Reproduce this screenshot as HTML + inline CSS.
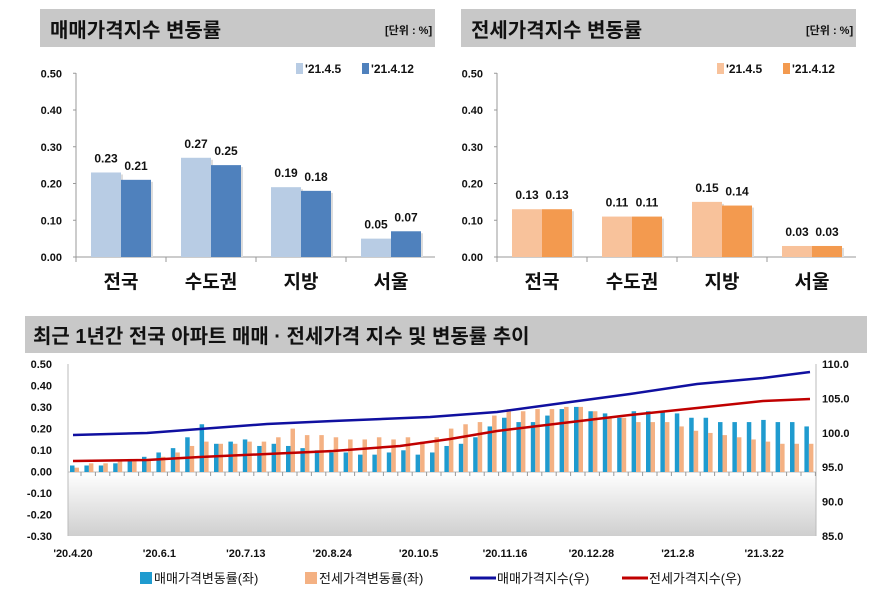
<!DOCTYPE html><html><head><meta charset="utf-8"><style>
body{margin:0;background:#fff;width:881px;height:606px;overflow:hidden}
svg{font-family:"Liberation Sans","Noto Sans CJK KR",sans-serif}
</style></head><body>
<svg id="s" width="881" height="606" xmlns="http://www.w3.org/2000/svg">
<defs><linearGradient id="g" x1="0" y1="0" x2="0" y2="1"><stop offset="0" stop-color="#fff"/><stop offset="1" stop-color="#cfcfcf"/></linearGradient></defs>
</svg>
<script>
const s=document.getElementById('s');let h='';
function T(x,y,t,sz,anc,w,col){h+=`<text x="${x}" y="${y}" font-size="${sz}" text-anchor="${anc||'start'}" font-weight="${w||'bold'}" fill="${col||'#111'}">${t}</text>`}
function R(x,y,w,hh,c){h+=`<rect x="${x}" y="${y}" width="${w}" height="${hh}" fill="${c}"/>`}
function panel(ox,title,c1,c2,vals){
 R(ox+40,9,395,38,'#c8c8c8');T(ox+50,37,title,20);T(ox+385,34,'[단위 : %]',11);
 const y0=257,sc=367.5;
 for(let i=0;i<=5;i++){let y=y0-i*36.75;T(ox+62,y+4,(i/10).toFixed(2),11,'end');h+=`<line x1="${ox+73}" y1="${y}" x2="${ox+76}" y2="${y}" stroke="#999"/>`}
 h+=`<line x1="${ox+76}" y1="73" x2="${ox+76}" y2="${y0}" stroke="#999"/><line x1="${ox+76}" y1="${y0}" x2="${ox+435}" y2="${y0}" stroke="#999"/>`;
 const cats=['전국','수도권','지방','서울'];
 cats.forEach((c,i)=>{let cx=ox+121+i*90;
  let [a,b]=vals[i];
  R(cx-28,y0-a*sc+2,30,a*sc-2,'#ddd');R(cx+2,y0-b*sc+2,30,b*sc-2,'#ddd');
  R(cx-30,y0-a*sc,30,a*sc,c1);R(cx,y0-b*sc,30,b*sc,c2);
  T(cx-15,y0-a*sc-10,a.toFixed(2),12,'middle');T(cx+15,y0-b*sc-10,b.toFixed(2),12,'middle');
  T(cx,288,c,19,'middle');
  h+=`<line x1="${ox+76+i*90}" y1="${y0}" x2="${ox+76+i*90}" y2="${y0+5}" stroke="#999"/>`});
 R(ox+296,63,7,11,c1);T(ox+305,73,"'21.4.5",12);R(ox+362,63,7,11,c2);T(ox+371,73,"'21.4.12",12);
}
panel(0,'매매가격지수 변동률','#b8cce4','#4f81bd',[[.23,.21],[.27,.25],[.19,.18],[.05,.07]]);
panel(421,'전세가격지수 변동률','#f8c29b','#f39a4f',[[.13,.13],[.11,.11],[.15,.14],[.03,.03]]);
R(25,316,842,37,'#c8c8c8');T(33,343,'최근 1년간 전국 아파트 매매 · 전세가격 지수 및 변동률 추이',20);
const X0=68,X1=816,Y0=472,k=217;
R(X0,Y0,X1-X0,536-Y0,'url(#g)');
for(let i=0;i<=8;i++){let v=0.5-i*0.1;let y=364+i*21.5;T(52,y+4,v.toFixed(2).replace('-0.00','0.00'),11,'end')}
for(let i=0;i<=5;i++){let y=364+i*34.4;T(822,y+4,(110-i*5).toFixed(1),11,'start')}
h+=`<line x1="${X0}" y1="364" x2="${X0}" y2="536" stroke="#bbb"/><line x1="${X1}" y1="364" x2="${X1}" y2="536" stroke="#bbb"/><line x1="${X0}" y1="${Y0}" x2="${X1}" y2="${Y0}" stroke="#bbb"/>`;
const B=[.03,.03,.03,.04,.06,.07,.09,.11,.16,.22,.13,.14,.15,.12,.13,.12,.11,.10,.09,.09,.08,.08,.09,.10,.08,.09,.12,.13,.16,.21,.25,.23,.23,.26,.29,.30,.28,.27,.25,.28,.28,.28,.27,.25,.25,.23,.23,.23,.24,.23,.23,.21];
const O=[.02,.04,.04,.05,.05,.06,.07,.09,.12,.14,.13,.13,.14,.14,.16,.20,.17,.17,.16,.15,.15,.16,.15,.16,.14,.16,.20,.22,.23,.26,.29,.28,.29,.29,.30,.30,.28,.25,.25,.23,.23,.23,.21,.19,.18,.17,.16,.15,.14,.13,.13,.13];
for(let i=0;i<52;i++){let cx=72+i*14.4;
 R(cx-2,Y0-B[i]*k,4.5,B[i]*k,'#1f9bcf');R(cx+2.5,Y0-O[i]*k,4.5,O[i]*k,'#f4b183');
 h+=`<line x1="${cx+9}" y1="${Y0}" x2="${cx+9}" y2="${Y0+4}" stroke="#999"/>`}
const bl=[[73,435],[147,433],[200,429],[267,424],[333,421],[430,417],[497,412],[563,403],[630,394],[697,384],[763,378],[810,372]];
const rd=[[73,461],[147,460],[200,457],[267,454],[333,451],[400,446],[450,439],[497,431],[563,423],[630,415],[697,408],[763,401],[810,399]];
h+=`<polyline points="${bl.join(' ')}" fill="none" stroke="#1010a0" stroke-width="2.5"/>`;
h+=`<polyline points="${rd.join(' ')}" fill="none" stroke="#c00000" stroke-width="2.5"/>`;
const xl=["'20.4.20","'20.6.1","'20.7.13","'20.8.24","'20.10.5","'20.11.16","'20.12.28","'21.2.8","'21.3.22"];
xl.forEach((t,i)=>T(73+i*86.4,557,t,11,'middle'));
R(140,572,12,12,'#1f9bcf');T(154,583,'매매가격변동률(좌)',13,'start','normal');
R(305,572,12,12,'#f4b183');T(319,583,'전세가격변동률(좌)',13,'start','normal');
h+=`<line x1="470" y1="578" x2="496" y2="578" stroke="#1010a0" stroke-width="3"/>`;T(497,583,'매매가격지수(우)',13,'start','normal');
h+=`<line x1="622" y1="578" x2="648" y2="578" stroke="#c00000" stroke-width="3"/>`;T(649,583,'전세가격지수(우)',13,'start','normal');
s.innerHTML+=h;
</script></body></html>
